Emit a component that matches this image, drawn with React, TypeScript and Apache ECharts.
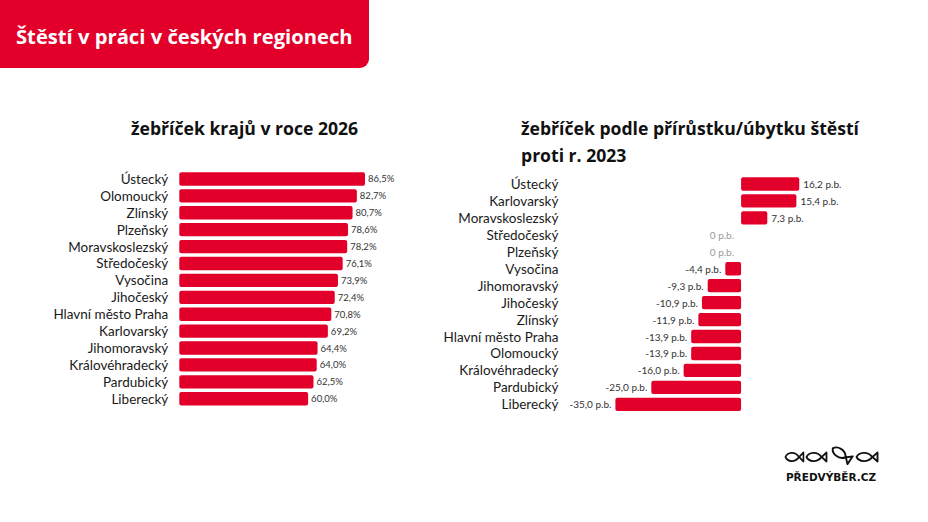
import React, { useEffect, useRef } from "react";
import * as echarts from "echarts";

const leftCategories = ["Ústecký", "Olomoucký", "Zlínský", "Plzeňský", "Moravskoslezský", "Středočeský", "Vysočina", "Jihočeský", "Hlavní město Praha", "Karlovarský", "Jihomoravský", "Královéhradecký", "Pardubický", "Liberecký"];
const leftValues = [86.5, 82.7, 80.7, 78.6, 78.2, 76.1, 73.9, 72.4, 70.8, 69.2, 64.4, 64.0, 62.5, 60.0];

const rightCategories = ["Ústecký", "Karlovarský", "Moravskoslezský", "Středočeský", "Plzeňský", "Vysočina", "Jihomoravský", "Jihočeský", "Zlínský", "Hlavní město Praha", "Olomoucký", "Královéhradecký", "Pardubický", "Liberecký"];
const rightValues = [16.2, 15.4, 7.3, 0, 0, -4.4, -9.3, -10.9, -11.9, -13.9, -13.9, -16.0, -25.0, -35.0];

const RED = "#E2002B";
const FONT = "Lato, 'DejaVu Sans', sans-serif";
const TFONT = "'Open Sans', Lato, sans-serif";

const fishPath = "M20.5,0.5 L15,5.6 C11,10.6 3,10 0.5,5 C3,0 11,-0.6 15,4.4 L20.5,9.5 Z";
echarts.graphic.registerShape("fishlogo", echarts.graphic.extendPath(fishPath, {}) as any);

const fmt = (v: number) => v.toFixed(1).replace(".", ",");

export default function App() {
  const ref = useRef<HTMLDivElement>(null);
  useEffect(() => {
    if (!ref.current) return;
    const chart = echarts.init(ref.current, undefined, { renderer: "svg" });
    const fishStyle = { fill: "none", stroke: "#111", lineWidth: 1.8, lineJoin: "round" };
    chart.setOption({
      animation: false,
      backgroundColor: "#fff",
      textStyle: { fontFamily: FONT },
      grid: [
        { left: 179.3, width: 214.7, top: 170.5, height: 236.7 },
        { left: 615.4, width: 197.5, top: 175.5, height: 237.3 },
      ],
      xAxis: [
        { type: "value", gridIndex: 0, min: 0, max: 100, show: false },
        { type: "value", gridIndex: 1, min: -35, max: 20, show: false },
      ],
      yAxis: [
        {
          type: "category", gridIndex: 0, inverse: true, data: leftCategories,
          axisLine: { show: false, onZero: false }, axisTick: { show: false },
          axisLabel: { interval: 0, color: "#1a1a1a", fontSize: 13.5, margin: 11, fontFamily: FONT },
        },
        {
          type: "category", gridIndex: 1, inverse: true, data: rightCategories,
          axisLine: { show: false, onZero: false }, axisTick: { show: false },
          axisLabel: { interval: 0, color: "#1a1a1a", fontSize: 13.5, margin: 57, fontFamily: FONT },
        },
      ],
      series: [
        {
          type: "bar", xAxisIndex: 0, yAxisIndex: 0, data: leftValues,
          barCategoryGap: "21%",
          itemStyle: { color: RED, borderRadius: 2 },
          label: {
            show: true, position: "right", distance: 3, color: "#333", fontSize: 9.5,
            fontFamily: FONT, formatter: (p: any) => fmt(p.value) + "%",
          },
        },
        {
          type: "bar", xAxisIndex: 1, yAxisIndex: 1,
          barCategoryGap: "21%",
          itemStyle: { color: RED, borderRadius: 2 },
          data: rightValues.map((v) => ({
            value: v,
            label: {
              show: true,
              position: v > 0 ? "right" : "left",
              distance: v === 0 ? 7 : 4,
              color: v === 0 ? "#999" : "#333",
              fontSize: 10,
              fontFamily: FONT,
              formatter: () => (v === 0 ? "0 p.b." : fmt(v) + " p.b."),
            },
          })),
        },
      ],
      graphic: [
        { type: "rect", left: 0, top: 0, shape: { x: 0, y: 0, width: 369, height: 68, r: [0, 0, 9, 0] }, style: { fill: RED } },
        { type: "text", x: 16, y: 36, style: { text: "Štěstí v práci v českých regionech", fill: "#fff", font: `bold 20.2px ${TFONT}`, textVerticalAlign: "middle" } },
        { type: "text", x: 131, y: 128, style: { text: "žebříček krajů v roce 2026", fill: "#111", font: `bold 17.6px ${TFONT}`, textVerticalAlign: "middle" } },
        { type: "text", x: 521, y: 128, style: { text: "žebříček podle přírůstku/úbytku štěstí", fill: "#111", font: `bold 17.6px ${TFONT}`, textVerticalAlign: "middle" } },
        { type: "text", x: 521, y: 155, style: { text: "proti r. 2023", fill: "#111", font: `bold 17.6px ${TFONT}`, textVerticalAlign: "middle" } },
        { type: "fishlogo", x: 785, y: 452, scaleX: 0.9, scaleY: 1, style: fishStyle },
        { type: "fishlogo", x: 806, y: 452, scaleX: 1, scaleY: 1, style: fishStyle },
        { type: "fishlogo", x: 831, y: 449, scaleX: 1.05, scaleY: 1.05, rotation: -0.6, originX: 10, originY: 5, style: fishStyle },
        { type: "fishlogo", x: 856, y: 452, scaleX: 1.05, scaleY: 1, style: fishStyle },
        { type: "text", x: 831, y: 477, style: { text: "PŘEDVÝBĚR.CZ", fill: "#111", font: `bold 10.5px 'DejaVu Sans', sans-serif`, textAlign: "center", textVerticalAlign: "middle" } },
      ],
    });
    return () => chart.dispose();
  }, []);
  return <div ref={ref} style={{ position: "fixed", left: 0, top: 0, width: 928, height: 522 }} />;
}
